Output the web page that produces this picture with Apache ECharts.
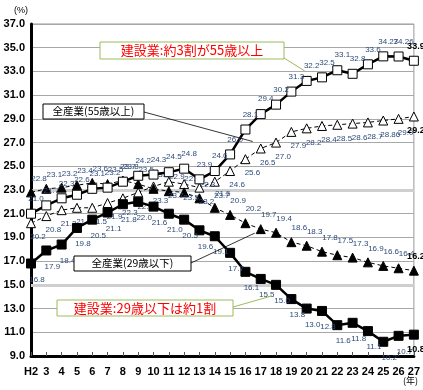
<!DOCTYPE html>
<html><head><meta charset="utf-8">
<script src="https://cdn.jsdelivr.net/npm/echarts@6/dist/echarts.min.js"></script>
<style>html,body{margin:0;padding:0;background:#fff}#c{width:423px;height:390px}</style>
</head><body><div id="c"></div>
<script>
var categories = ['H2','3','4','5','6','7','8','9','10','11','12','13','14','15','16','17','18','19','20','21','22','23','24','25','26','27'];
var constr55 = [21.0,21.7,22.3,22.6,23.1,23.2,23.7,24.2,24.3,24.5,24.8,23.9,24.6,26.0,28.1,29.4,30.2,31.3,32.2,32.5,33.1,32.8,33.6,34.27,34.26,33.9];
var allInd55 = [20.2,20.8,21.3,21.5,21.5,21.9,22.3,22.8,23.3,23.7,23.5,23.2,23.7,24.6,25.6,26.5,27.0,27.9,28.2,28.4,28.5,28.6,28.7,28.86,29.0,29.2];
var allInd29 = [22.8,23.1,23.2,23.4,23.6,23.5,23.8,23.5,23.1,22.9,22.8,22.3,21.5,20.9,20.2,19.7,19.4,18.6,18.3,17.8,17.5,17.3,16.9,16.6,16.4,16.2];
var constr29 = [16.8,17.9,18.4,19.8,20.5,21.1,21.8,22.0,21.6,21.0,20.5,19.6,19.1,17.7,16.1,15.5,15.0,13.8,13.0,12.8,11.6,11.8,11.1,10.2,10.7,10.8];
var yTicks = {min: 9, max: 37, interval: 2};

var numFont = '"Liberation Sans", Arial, sans-serif';
var jpFont = '"Noto Sans CJK JP", sans-serif';
function fmt(p){ var v = p.value; var s = String(v); return (s.indexOf('.')>=0 && s.split('.')[1].length>1) ? s : v.toFixed(1); }
function withBoldLast(arr){
  return arr.map(function(v,i){
    if(i===arr.length-1) return {value:v, label:{fontWeight:'bold', color:'#000', fontSize:9, offset:[2,0]}};
    return v;
  });
}
var lbl = function(pos, off){ return {show:true, position:pos, offset:off, fontSize:8, color:'#2e4a7a', fontFamily:numFont, formatter:fmt}; };

var chart = echarts.init(document.getElementById('c'), null, {renderer:'canvas'});
chart.setOption({
  animation:false,
  grid:{left:31, right:9, top:24, bottom:34, show:true, borderColor:'#999', borderWidth:1},
  xAxis:{type:'category', data:categories, boundaryGap:false,
    axisLine:{lineStyle:{color:'#000', width:3}},
    axisTick:{show:true, inside:true, length:4, lineStyle:{color:'#555'}},
    axisLabel:{color:'#000', fontSize:11, fontWeight:'bold', fontFamily:numFont, margin:10, interval:0},
    splitLine:{show:false}},
  yAxis:{type:'value', min:yTicks.min, max:yTicks.max, interval:yTicks.interval,
    axisLine:{show:true, lineStyle:{color:'#000', width:3}},
    axisTick:{show:false},
    axisLabel:{color:'#000', fontSize:11, fontWeight:'bold', fontFamily:numFont, margin:6, formatter:function(v){return v.toFixed(1);}},
    splitLine:{show:true, lineStyle:{color:'#a8a8a8', width:1}}},
  series:[
    {type:'line', data:[], z:1, zlevel:0, markLine:{silent:true, symbol:'none', label:{show:false},
      lineStyle:{color:'#cfcfcf', width:3, type:'solid'}, data:[{yAxis:23},{yAxis:15}]}},
    {name:'建設業55歳以上', type:'line', data:withBoldLast(constr55), z:4, zlevel:1,
      lineStyle:{color:'#000', width:2.5}, symbol:'rect', symbolSize:9,
      itemStyle:{color:'#fff', borderColor:'#000', borderWidth:1},
      label:lbl('top',[5,-1])},
    {name:'全産業55歳以上', type:'line', data:withBoldLast(allInd55), z:3, zlevel:1,
      lineStyle:{color:'#000', width:1, type:[4,3]}, symbol:'triangle', symbolSize:9,
      itemStyle:{color:'#fff', borderColor:'#000', borderWidth:1},
      label:lbl('bottom',[7,0])},
    {name:'全産業29歳以下', type:'line', data:withBoldLast(allInd29), z:3, zlevel:1,
      lineStyle:{color:'#000', width:1, type:[4,3]}, symbol:'triangle', symbolSize:9,
      itemStyle:{color:'#000', borderColor:'#000', borderWidth:1},
      label:lbl('top',[8,0])},
    {name:'建設業29歳以下', type:'line', data:withBoldLast(constr29), z:4, zlevel:1,
      lineStyle:{color:'#000', width:2.5}, symbol:'rect', symbolSize:9,
      itemStyle:{color:'#000', borderColor:'#000', borderWidth:1},
      label:lbl('bottom',[6,2])}
  ]
});

function px(series, idx){ return chart.convertToPixel({seriesIndex:series}, [idx, [null,constr55,allInd55,allInd29,constr29][series][idx]]); }
var p1 = px(1,18), p2 = px(2,15), p3 = px(3,15), p4 = px(4,16);
chart.setOption({graphic:[
  {type:'text', left:14, top:6, style:{text:'(%)', fontSize:9, fill:'#000', fontFamily:numFont}},
  {type:'text', left:403, top:376, style:{text:'(年)', fontSize:9, fill:'#000', fontFamily:jpFont}},
  {type:'line', zlevel:2, shape:{x1:284, y1:58, x2:p1[0]-2, y2:p1[1]-10}, style:{stroke:'#9bbb59', lineWidth:1}, z:10},
  {type:'rect', zlevel:2, shape:{x:100, y:42, width:184, height:17}, style:{fill:'#fff', stroke:'#9bbb59', lineWidth:1}, z:11},
  {type:'text', zlevel:2, x:192, y:50.5, style:{text:'建設業:約3割が55歳以上', fontSize:13, fill:'#ff0000', fontFamily:jpFont, textAlign:'center', textVerticalAlign:'middle'}, z:12},
  {type:'line', zlevel:2, shape:{x1:144, y1:112, x2:p2[0]-8, y2:p2[1]-7}, style:{stroke:'#000', lineWidth:0.8}, z:10},
  {type:'rect', zlevel:2, shape:{x:43, y:104, width:101, height:15}, style:{fill:'#fff', stroke:'#000', lineWidth:1}, z:11},
  {type:'text', zlevel:2, x:93.5, y:111.5, style:{text:'全産業(55歳以上)', fontSize:10.5, fill:'#000', fontFamily:jpFont, textAlign:'center', textVerticalAlign:'middle'}, z:12},
  {type:'line', zlevel:2, shape:{x1:191, y1:263, x2:p3[0]-6, y2:p3[1]+4}, style:{stroke:'#000', lineWidth:0.8}, z:10},
  {type:'rect', zlevel:2, shape:{x:74, y:256, width:117, height:15}, style:{fill:'#fff', stroke:'#000', lineWidth:1}, z:11},
  {type:'text', zlevel:2, x:132.5, y:263.5, style:{text:'全産業(29歳以下)', fontSize:10.5, fill:'#000', fontFamily:jpFont, textAlign:'center', textVerticalAlign:'middle'}, z:12},
  {type:'line', zlevel:2, shape:{x1:233, y1:307, x2:p4[0]-4, y2:p4[1]+11}, style:{stroke:'#9bbb59', lineWidth:1}, z:10},
  {type:'rect', zlevel:2, shape:{x:57, y:300, width:176, height:16}, style:{fill:'#fff', stroke:'#9bbb59', lineWidth:1}, z:11},
  {type:'text', zlevel:2, x:145, y:308, style:{text:'建設業:29歳以下は約1割', fontSize:13, fill:'#ff0000', fontFamily:jpFont, textAlign:'center', textVerticalAlign:'middle'}, z:12}
]});
</script></body></html>
